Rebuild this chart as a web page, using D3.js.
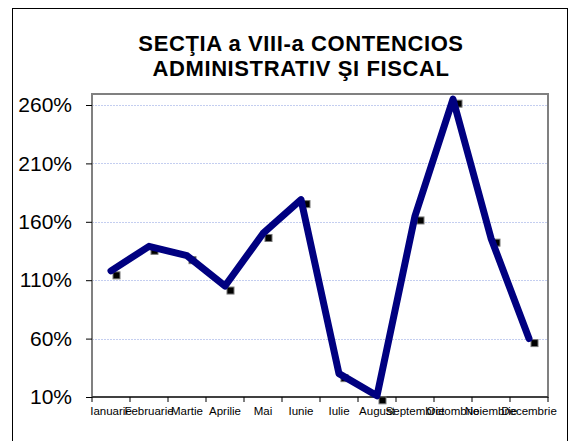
<!DOCTYPE html>
<html>
<head>
<meta charset="utf-8">
<script src="https://cdn.jsdelivr.net/npm/d3@7"></script>
<style>
  body { margin: 0; background: #fff; }
  svg { display: block; font-family: Arial, "Liberation Sans", sans-serif; }
</style>
</head>
<body>
<div id="container"></div>
<script>
const months = ['Ianuarie', 'Februarie', 'Martie', 'Aprilie', 'Mai', 'Iunie', 'Iulie',
  'August', 'Septembrie', 'Octombrie', 'Noiembrie', 'Decembrie'];
const values = [118, 139, 131, 105, 150, 179, 30, 11, 165, 265, 146, 60];
const yTicks = [10, 60, 110, 160, 210, 260];
const titleLines = ['SECŢIA a VIII-a CONTENCIOS', 'ADMINISTRATIV ŞI FISCAL'];

const w = 570;
const h = 441;
const pLeft = 92, pRight = 548, pTop = 94, pBottom = 397;

const svg = d3.select('#container')
  .append('svg')
    .attr('width', w)
    .attr('height', h);

// chart border
svg.append('rect')
  .attr('x', 12.5)
  .attr('y', 8.5)
  .attr('width', 555)
  .attr('height', 440)
  .attr('fill', 'none')
  .attr('stroke', '#000')
  .attr('stroke-width', 1);

svg.selectAll('.title')
  .data(titleLines)
  .enter()
  .append('text')
    .attr('class', 'title')
    .attr('x', 301)
    .attr('y', (d, i) => 51 + i * 25)
    .attr('text-anchor', 'middle')
    .style('font-size', '22px')
    .style('letter-spacing', '0.6px')
    .style('font-weight', 'bold')
    .text(d => d);

const x = d3.scaleBand()
  .domain(months)
  .range([pLeft, pRight]);

const y = d3.scaleLinear()
  .domain([10, 270])
  .range([pBottom, pBottom - 260 * 58.4 / 50]);

// gridlines
svg.append('g')
  .selectAll('line')
  .data(yTicks.slice(1))
  .enter()
  .append('line')
    .attr('x1', pLeft)
    .attr('x2', pRight)
    .attr('y1', d => Math.round(y(d)) + 0.5)
    .attr('y2', d => Math.round(y(d)) + 0.5)
    .attr('stroke', '#c4cef0')
    .attr('stroke-dasharray', '2,1');

// plot frame
svg.append('rect')
  .attr('x', pLeft)
  .attr('y', pTop)
  .attr('width', pRight - pLeft)
  .attr('height', pBottom - pTop)
  .attr('fill', 'none')
  .attr('stroke', '#808080')
  .attr('stroke-width', 2);

const yAxis = d3.axisLeft(y)
  .tickValues(yTicks)
  .tickSize(6)
  .tickFormat(d => d + '%');

const gy = svg.append('g')
  .attr('transform', 'translate(' + pLeft + ', 0)')
  .call(yAxis);
gy.select('.domain').remove();
gy.selectAll('.tick line').attr('stroke', '#000');
gy.selectAll('.tick text')
  .attr('x', -20)
  .style('font-size', '21px')
  .style('font-family', 'Arial, "Liberation Sans", sans-serif')
  .attr('fill', '#000');

// x axis: ticks at band edges
const gx = svg.append('g')
  .attr('transform', 'translate(0, ' + pBottom + ')');
gx.append('line')
  .attr('x1', pLeft)
  .attr('x2', pRight)
  .attr('stroke', '#000');
gx.selectAll('.xt')
  .data(months.concat(['end']))
  .enter()
  .append('line')
    .attr('class', 'xt')
    .attr('x1', (d, i) => i < months.length ? x(d) : pRight)
    .attr('x2', (d, i) => i < months.length ? x(d) : pRight)
    .attr('y1', 0)
    .attr('y2', 5)
    .attr('stroke', '#000');
gx.selectAll('text')
  .data(months)
  .enter()
  .append('text')
    .attr('x', d => x(d) + x.bandwidth() / 2)
    .attr('y', 18)
    .attr('text-anchor', 'middle')
    .style('font-size', '11.5px')
    .attr('fill', '#000')
    .text(d => d);

const pts = months.map((m, i) => [x(m) + x.bandwidth() / 2, y(values[i])]);

// markers (offset squares)
svg.append('g')
  .selectAll('rect')
  .data(pts)
  .enter()
  .append('rect')
    .attr('x', d => d[0] + 2)
    .attr('y', d => d[1] + 1)
    .attr('width', 7)
    .attr('height', 7)
    .attr('fill', '#000')
    .attr('stroke', '#777')
    .attr('stroke-width', 1);

svg.append('path')
  .datum(pts)
  .attr('d', d3.line())
  .attr('fill', 'none')
  .attr('stroke', '#000080')
  .attr('stroke-width', 7)
  .attr('stroke-linejoin', 'round')
  .attr('stroke-linecap', 'round');
</script>
</body>
</html>
